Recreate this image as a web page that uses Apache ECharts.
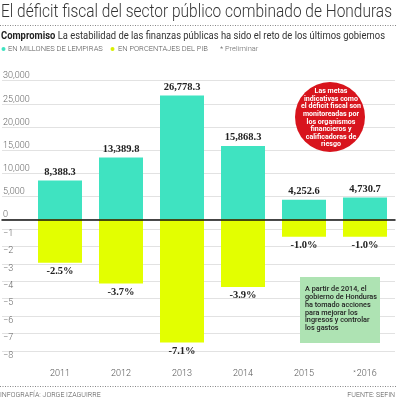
<!DOCTYPE html>
<html>
<head>
<meta charset="utf-8">
<script src="https://cdn.jsdelivr.net/npm/echarts@6/dist/echarts.min.js"></script>
<style>
html,body{margin:0;padding:0;background:#fff;}
#c{width:397px;height:400px;}
</style>
</head>
<body>
<div id="c"></div>
<script>
// ---- data ----
const years = ['2011', '2012', '2013', '2014', '2015', '*2016'];
const lempiras = [8388.3, 13389.8, 26778.3, 15868.3, 4252.6, 4730.7];
const pib = [-2.5, -3.7, -7.1, -3.9, -1.0, -1.0];
const topTicks = [0, 5000, 10000, 15000, 20000, 25000, 30000];
const bottomTicks = [-1, -2, -3, -4, -5, -6, -7, -8];
const circleLines = ['Las metas', 'indicativas como', 'el déficit fiscal son', 'monitoreadas por', 'los organismos', 'financieros y', 'calificadoras de', 'riesgo'];
const boxLines = ['A partir de 2014, el', 'gobierno de Honduras', 'ha tomado acciones', 'para mejorar los', 'ingresos y controlar', 'los gastos'];
const titleText = 'El déficit fiscal del sector público combinado de Honduras';
const subBold = 'Compromiso';
const subText = 'La estabilidad de las finanzas públicas ha sido el reto de los últimos gobiernos';

const TEAL = '#3fe3c1', YELLOW = '#e3ff00';
const SANS = 'Roboto';
const chart = echarts.init(document.getElementById('c'), null, {renderer: 'canvas'});

const mctx = document.createElement('canvas').getContext('2d');
function tw(font, text){ mctx.font = font; return mctx.measureText(text).width; }

function fmtThousands(v){ return v.toLocaleString('en-US', {minimumFractionDigits:1, maximumFractionDigits:1}); }

const titleFont = '300 17.5px ' + SANS;
const titleScale = 391 / tw(titleFont, titleText);
const subW = tw('bold 10px ' + SANS, subBold) + tw('10px ' + SANS, ' ' + subText);
const subScale = 384 / subW;
const circFont = 'bold 7.4px ' + SANS;
const circScale = 60 / tw(circFont, 'el déficit fiscal son');
const boxFont = '500 7.5px ' + SANS;
const boxScale = 72 / tw(boxFont, 'gobierno de Honduras');

const graphics = [];
// title
graphics.push({type:'text', x:1, y:13, scaleX:titleScale, style:{text:titleText, font:titleFont, fill:'#333', verticalAlign:'middle'}});
// dotted rule
graphics.push({type:'line', shape:{x1:0, y1:25.5, x2:397, y2:25.5}, style:{stroke:'#888', lineWidth:1, lineDash:[1,1.5]}});
// subtitle
graphics.push({type:'text', x:1, y:36, scaleX:subScale, style:{verticalAlign:'middle', rich:{b:{fontFamily:SANS, fontWeight:'bold', fontSize:10, fill:'#222'}, n:{fontFamily:SANS, fontSize:10, fill:'#333'}}, text:'{b|' + subBold + '}{n| ' + subText + '}'}});
// legend
graphics.push({type:'circle', shape:{cx:3.5, cy:49, r:2}, style:{fill:TEAL}});
graphics.push({type:'text', x:8, y:49, style:{text:'EN MILLONES DE LEMPIRAS', font:'300 7.5px ' + SANS, fill:'#555', verticalAlign:'middle'}});
graphics.push({type:'circle', shape:{cx:112.5, cy:49, r:2}, style:{fill:'#d8f000'}});
graphics.push({type:'text', x:118, y:49, style:{text:'EN PORCENTAJES DEL PIB', font:'300 7.5px ' + SANS, fill:'#555', verticalAlign:'middle'}});
graphics.push({type:'text', x:220, y:49, style:{text:'* Preliminar', font:'300 7.5px ' + SANS, fill:'#666', verticalAlign:'middle'}});
// red circle
graphics.push({type:'circle', shape:{cx:330, cy:117, r:35}, style:{fill:'#d8141d'}, z:20});
graphics.push({type:'text', x:331, y:118, scaleX:circScale, z:21, style:{text:circleLines.join('\n'), font:circFont, lineHeight:7.6, fill:'#fff', align:'center', verticalAlign:'middle'}});
// green box
graphics.push({type:'rect', shape:{x:300, y:277, width:80, height:66}, style:{fill:'#aee3b3'}, z:20});
graphics.push({type:'text', x:305, y:285.5, scaleX:boxScale, z:21, style:{text:boxLines.join('\n'), font:boxFont, lineHeight:7.8, fill:'#222', align:'left', verticalAlign:'top'}});
// footer
graphics.push({type:'line', shape:{x1:0, y1:386.5, x2:397, y2:386.5}, style:{stroke:'#888', lineWidth:1, lineDash:[1,1.5]}});
graphics.push({type:'text', x:0, y:395, style:{text:'INFOGRAFÍA: JORGE IZAGUIRRE', font:'300 7px ' + SANS, fill:'#555', verticalAlign:'middle'}});
graphics.push({type:'text', x:395, y:395, style:{text:'FUENTE: SEFIN', font:'300 7px ' + SANS, fill:'#555', align:'right', verticalAlign:'middle'}});

const labelStyle = {fontFamily:SANS, fontWeight:300, fontSize:9, color:'#666'};

const option = {
  animation:false,
  backgroundColor:'#fff',
  grid:[
    {left:0, right:2, top:80.7, height:138.6},      // top gridlines
    {left:0, right:2, top:229, height:121.8},       // bottom gridlines (-1..-8)
    {left:29.5, width:366, top:80.7, height:138.6}, // top bars
    {left:29.5, width:366, top:219.3, height:138.8} // bottom bars
  ],
  xAxis:[
    {gridIndex:0, type:'category', data:years, z:10, axisLine:{show:true, lineStyle:{color:'#111', width:1.5}}, axisTick:{show:false}, axisLabel:{show:false}},
    {gridIndex:1, type:'category', data:years, show:false},
    {gridIndex:2, type:'category', data:years, show:false},
    {gridIndex:3, type:'category', data:years, axisLine:{show:false}, axisTick:{show:false},
      axisLabel:{show:true, margin:11, fontFamily:SANS, fontWeight:300, fontSize:9, color:'#555',
        formatter:v=>v.charAt(0) === '*' ? '{s|*}' + v.slice(1) : v,
        rich:{s:{fontFamily:SANS, fontWeight:300, fontSize:6, color:'#555', verticalAlign:'top', padding:[0,1,4,0]}}}}
  ],
  yAxis:[
    {gridIndex:0, type:'value', min:topTicks[0], max:topTicks[topTicks.length-1], interval:5000,
      axisLine:{show:false}, axisTick:{show:false},
      axisLabel:Object.assign({inside:true, margin:1, verticalAlign:'bottom', align:'left',
        formatter:v=>v.toLocaleString('en-US')}, labelStyle),
      splitLine:{lineStyle:{color:'#e2e2e2', width:1}}},
    {gridIndex:1, type:'value', min:bottomTicks[bottomTicks.length-1], max:bottomTicks[0], interval:1,
      axisLine:{show:false}, axisTick:{show:false},
      axisLabel:Object.assign({inside:true, margin:1, verticalAlign:'top', align:'left',
        formatter:v=>String(v).replace('-', '\u2212')}, labelStyle),
      splitLine:{lineStyle:{color:'#e2e2e2', width:1}}},
    {gridIndex:2, type:'value', min:0, max:30000, show:false, splitLine:{show:false}},
    {gridIndex:3, type:'value', min:-8, max:0, show:false, splitLine:{show:false}}
  ],
  series:[
    {type:'bar', xAxisIndex:2, yAxisIndex:2, data:lempiras, barWidth:44, itemStyle:{color:TEAL},
      label:{show:true, position:'top', distance:3, fontFamily:'Liberation Serif', fontWeight:'bold', fontSize:10.5, color:'#222',
        formatter:p=>fmtThousands(p.value)}},
    {type:'bar', xAxisIndex:3, yAxisIndex:3, data:pib, barWidth:44, itemStyle:{color:YELLOW},
      label:{show:true, position:'bottom', distance:3, fontFamily:'Liberation Serif', fontWeight:'bold', fontSize:10.5, color:'#222',
        formatter:p=>p.value.toFixed(1) + '%'}}
  ],
  graphic:graphics
};
chart.setOption(option);
</script>
</body>
</html>
